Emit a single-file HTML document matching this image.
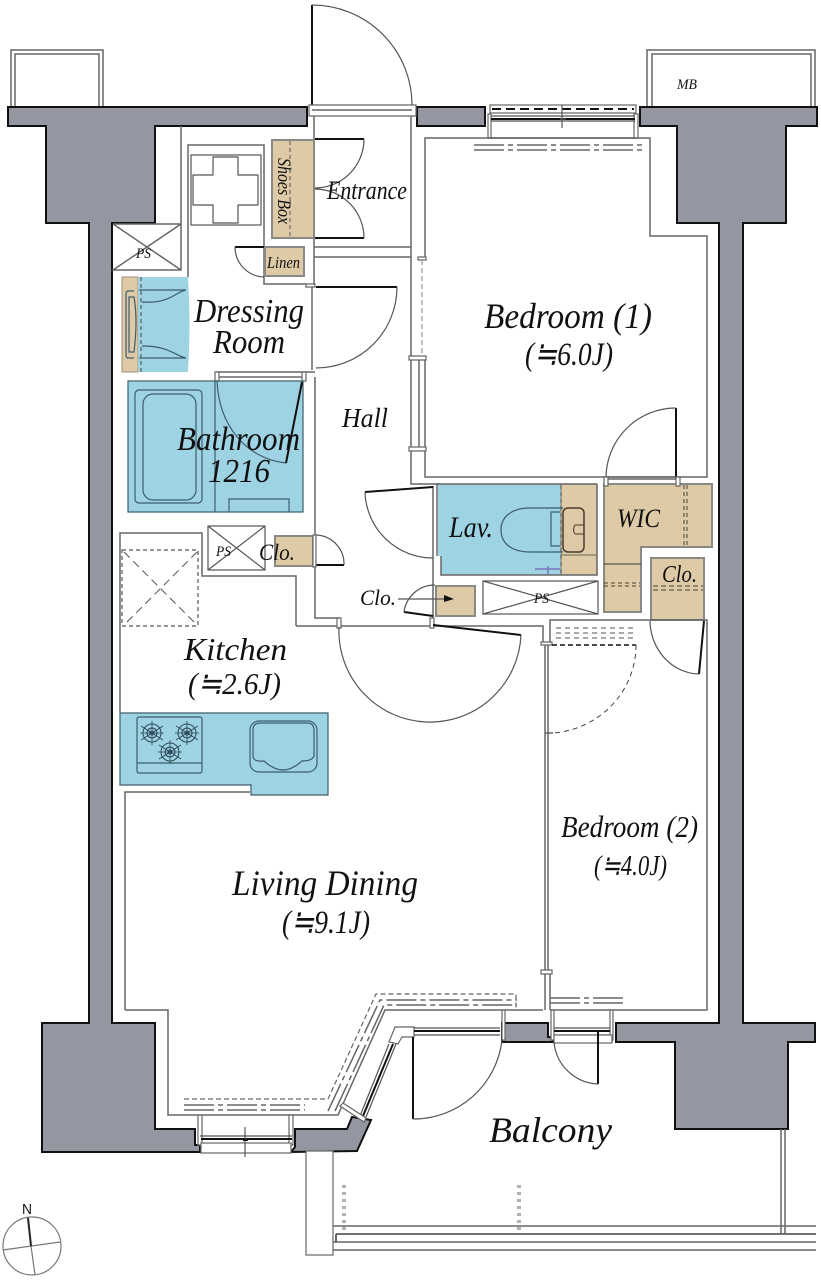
<!DOCTYPE html>
<html><head><meta charset="utf-8"><style>
html,body{margin:0;padding:0;background:#fff}
svg{display:block}
text{font-family:"Liberation Serif","Noto Serif CJK JP",serif;font-style:italic;fill:#111}
.l{fill:none;stroke:#666;stroke-width:1.5}
.k{fill:none;stroke:#111;stroke-width:2}
.a{fill:none;stroke:#555;stroke-width:1.2}
.w{fill:#9496a1;stroke:#111;stroke-width:2}
.d{fill:none;stroke:#555;stroke-width:1.5;stroke-dasharray:6 3}
.c{fill:none;stroke:#666;stroke-width:1.5;stroke-dasharray:30 4 5 4}
.b{fill:#9dd3e3;stroke:#3d5d6d;stroke-width:1.2}
.t{fill:#decaa6;stroke:#8a8a84;stroke-width:2}
.e{fill:none;stroke:#3d5d6d;stroke-width:1.2}
.f{fill:#fff;stroke:#666;stroke-width:1.2}
</style></head><body>
<svg width="821" height="1280" viewBox="0 0 821 1280" xmlns="http://www.w3.org/2000/svg">
<rect width="821" height="1280" fill="#fff"/>

<!-- meter boxes -->
<path class="l" d="M11 107V50H103V107M15 107V54H99V107M647 107V50H815V107M652 107V54H811V107"/>

<!-- structural walls -->
<path class="w" d="M8 107H307V126H155V223H112V1023H155V1129H195V1145H200V1152H42V1023H89V223H46V126H8Z"/>
<path class="w" d="M417 107H485V126H417Z"/>
<path class="w" d="M640 107H817V126H786V223H743V1023H815V1042H788V1129H675V1042H616V1023H719V223H677V126H640Z"/>
<path class="w" d="M291 1152L295 1147V1129H347L352 1117L371 1120L357 1151Z"/>
<path class="w" d="M502 1042V1023H548V1037H553V1042Z"/>

<!-- entrance door & threshold -->
<path class="k" d="M312 105V5"/>
<path class="a" d="M312 5A100 100 0 0 1 412 105"/>
<path class="f" d="M309 105H416V116H309Z"/>
<path class="l" d="M312 110H412"/>

<!-- inner wall lines -->
<path class="l" d="M181 126V224H113M181 224V270H113L181 224M113 224L181 270"/>
<path class="l" d="M188 277V145H264V284H306M314 116V284M312 287V370M411 116V358M314 247H411M314 257H411"/>
<path class="f" d="M306 284H315V287H306Z"/>
<path class="l" d="M425 257V138H650V236H707V477H425V448"/>
<path class="f" d="M418 257H426V260H418Z"/>
<path d="M422 260V357" fill="none" stroke="#aaa" stroke-width="1.5" stroke-dasharray="5 3"/>
<path class="l" d="M411 358V449M419 358V449M425 358V449"/>
<path class="f" d="M409 356H426V360H409Z"/>
<path class="f" d="M409 447H426V451H409Z"/>
<path class="l" d="M411 451V484H440"/>
<path class="l" d="M315 377V618H340M296 626V576H202V533H120V712M296 626H432M315 372H216"/>
<path class="l" d="M216 377H305"/>
<path class="f" d="M215 372H219V381H215Z"/>
<path class="f" d="M302 372H306V381H302Z"/>

<!-- washer pan -->
<rect class="a" x="191" y="155" width="70" height="70"/>
<path class="a" d="M213 157H238V175H258V205H238V223H213V205H193V175H213Z" stroke-linejoin="round"/>

<!-- shoes box -->
<rect class="t" x="272" y="140" width="42" height="98"/>
<path d="M290 141V237" fill="none" stroke="#555" stroke-dasharray="4 3"/>
<path class="k" d="M315 139H364M315 238H364"/>
<path class="a" d="M364 139A49 49 0 0 1 315 188M364 238A49 49 0 0 0 315 189"/>

<!-- linen -->
<rect class="t" x="265" y="247" width="39" height="29"/>
<path class="k" d="M264 247H235" stroke-width="1.5"/>
<path class="a" d="M235 247A30 30 0 0 0 264 277"/>

<!-- dressing room door -->
<path class="k" d="M316 287H397"/>
<path class="a" d="M397 287A81 81 0 0 1 316 368"/>

<!-- vanity -->
<rect x="122" y="277" width="16" height="95" fill="#decaa6" stroke="#a08e70"/>
<path d="M138 277H188Q191 325 188 372H138Z" fill="#9dd3e3"/>
<path d="M141 277V372" fill="none" stroke="#444" stroke-dasharray="4 3"/>
<path class="e" d="M139 290H186C175 292 170 304 142 302M139 358H186C175 356 170 346 142 346M134 291H128Q126 291 126 295V355Q126 358 128 358H134M129 297H134Q138 320 134 352H129Z"/>

<!-- bathroom -->
<rect class="b" x="128" y="381" width="175" height="131"/>
<rect class="e" x="135" y="390" width="67" height="113" rx="4"/>
<rect class="e" x="143" y="394" width="53" height="106" rx="10"/>
<path class="e" d="M215 381V512M229 512V499H289V512"/>
<path class="k" d="M302 382L286 463" stroke-width="1.5"/>
<path class="e" d="M217 381C219 425 245 458 286 463" stroke="#334"/>

<!-- kitchen PS -->
<rect class="a" x="208" y="526" width="57" height="44"/>
<path class="a" d="M208 526L265 570M265 526L208 570"/>
<rect class="t" x="275" y="536" width="38" height="30"/>
<path class="k" d="M315 565H344" stroke-width="1.5"/>
<path class="a" d="M315 535A29 29 0 0 1 344 565"/>
<path class="f" d="M313 535H316V567H313Z"/>
<rect x="122" y="550" width="76" height="76" fill="none" stroke="#555" stroke-width="1.2" stroke-dasharray="4 3"/>
<path d="M124 552L197 625M197 552L124 625" fill="none" stroke="#555" stroke-dasharray="8 5"/>

<!-- Lav -->
<path d="M438 484H561V575H441V556H438Z" fill="#9dd3e3"/>
<rect x="561" y="484" width="36" height="91" fill="#decaa6" stroke="#8a7a60"/>
<path class="l" d="M436 484H597M597 484V575H441V556M437 484V556"/>
<path class="l" d="M433 486V620"/>
<path d="M561 485V575" fill="none" stroke="#444" stroke-dasharray="4 3"/>
<path d="M561 555H597" stroke="#665" fill="none"/>
<path class="e" d="M563 508H530C510 508 501 518 501 530C501 542 510 552 530 552H563M560 512H551V546H560"/>
<rect x="563" y="508" width="21" height="44" rx="5" fill="none" stroke="#4a3a2a" stroke-width="1.5"/>
<path d="M584 525H575Q572 530 575 534H584" fill="none" stroke="#4a3a2a"/>
<path d="M535 569H560M548 566V574" fill="none" stroke="#7a74c0" stroke-width="1.5"/>

<!-- hall door to lav -->
<path class="k" d="M365 492L433 487" stroke-width="1.5"/>
<path class="a" d="M365 492A68 68 0 0 0 433 558"/>

<!-- small closet -->
<rect class="t" x="436" y="586" width="39" height="30"/>
<path class="k" d="M404 612L433 616" stroke-width="1.5"/>
<path class="a" d="M435 585A31 31 0 0 0 404 612"/>
<path class="a" d="M398 599H445"/>
<path d="M444 595L454 599L444 602Z" fill="#111"/>

<!-- long PS -->
<rect class="a" x="483" y="581" width="115" height="33"/>
<path class="a" d="M483 581L598 614M598 581L483 614"/>

<!-- WIC -->
<path class="t" d="M604 484H712V547H641V612H604Z" stroke="#a08e70" stroke-width="1"/>
<path d="M604 564H641" fill="none" stroke="#554" stroke-width="1.2"/>
<path d="M684 485V546M687 485V546" fill="none" stroke="#443" stroke-dasharray="4 3"/>
<path d="M604 583H640M604 586H640" fill="none" stroke="#443" stroke-dasharray="4 3"/>
<path class="k" d="M676 408V478" stroke-width="1.5"/>
<path class="a" d="M676 408A70 70 0 0 0 606 478"/>
<path class="l" d="M606 479H676M606 477H676"/>
<path class="f" d="M604 477H608V486H604Z"/>
<path class="f" d="M676 477H680V486H676Z"/>

<!-- right closet -->
<rect class="t" x="651" y="558" width="53" height="62" stroke-width="3"/>
<path d="M653 586H703M653 590H703" fill="none" stroke="#443" stroke-dasharray="5 3"/>
<path class="k" d="M704 621L699 674" stroke-width="1.5"/>
<path class="a" d="M650 621A50 54 0 0 0 699 674"/>

<!-- main lines -->
<path class="l" d="M433 626H543V643M550 643V620H707V1010H550"/>
<path class="f" d="M541 642H552V645H541Z"/>
<path class="l" d="M545 645V970M548 645V970"/>
<path class="f" d="M541 970H552V974H541Z"/>
<path class="l" d="M545 974V1010M550 974V1010"/>
<path class="f" d="M430 618H434V628H430Z"/>
<path class="f" d="M337 618H341V628H337Z"/>

<!-- LD door -->
<path class="k" d="M433 625L521 635" stroke-width="1.5"/>
<path class="a" d="M339 627A91 91 0 0 0 521 635"/>

<!-- bedroom2 dashed -->
<path d="M556 628H636M556 633H636M556 638H636" fill="none" stroke="#777" stroke-width="1.2" stroke-dasharray="5 4"/>
<path d="M552 645H636" fill="none" stroke="#111" stroke-width="1.5" stroke-dasharray="5 3"/>
<path d="M636 645A90 88 0 0 1 553 733" fill="none" stroke="#444" stroke-dasharray="5 4"/>
<path class="l" d="M545 733H553"/>

<!-- kitchen counter -->
<path class="b" d="M120 713H328V795H251V785H120Z"/>
<rect class="e" x="137" y="717" width="65" height="56" rx="2"/>
<path class="e" d="M137 763H202"/>
<g fill="none" stroke="#2c4654" stroke-width="1">
<circle cx="152" cy="733" r="9"/><circle cx="152" cy="733" r="5"/><circle cx="152" cy="733" r="2"/><path d="M152 721V745M140 733H164M141 726L163 740M163 726L141 740" stroke-width=".8"/>
<circle cx="187" cy="733" r="9"/><circle cx="187" cy="733" r="5"/><circle cx="187" cy="733" r="2"/><path d="M187 721V745M175 733H199M176 726L198 740M198 726L176 740" stroke-width=".8"/>
<circle cx="170" cy="752" r="9"/><circle cx="170" cy="752" r="5"/><circle cx="170" cy="752" r="2"/><path d="M170 740V764M158 752H182M159 745L181 759M181 745L159 759" stroke-width=".8"/>
</g>
<rect class="e" x="250" y="721" width="67" height="51" rx="9" stroke-width="1.5"/>
<path class="e" d="M253 730Q253 723 260 723H307Q314 723 314 730V756Q312 761 302 761Q292 770 283 770Q274 770 264 761Q253 762 253 756Z" stroke-width="1.5"/>

<!-- living dining outline -->
<path class="l" d="M120 712V713M125 1010V792H250M125 1010H168V1115H338L385 1010H543"/>

<!-- curtains -->
<path d="M184 1099H328L376 994H516V1009" fill="none" stroke="#666" stroke-width="1.2" stroke-dasharray="5 3"/>
<path class="c" d="M184 1105H305M184 1110H305M328 1111L380 1000H517M335 1111L384 1005H517"/>
<path class="c" d="M474 145H646M474 150H646"/>
<path class="c" d="M550 998H627M550 1003H627"/>

<!-- top window -->
<rect class="f" x="490" y="105" width="146" height="8"/>
<path d="M492 109H634" stroke="#111" stroke-width="2" stroke-dasharray="9 5" fill="none"/>
<path class="f" d="M488 114H491V138H488ZM634 114H638V138H634Z"/>
<path class="a" d="M491 116H635"/>
<path class="k" d="M491 119H635" stroke-width="1.5"/>
<path class="a" d="M491 121H635M488 138H638M562 105V128M560 119H566"/>

<!-- bottom window -->
<path class="f" d="M198 1115H202V1145H198ZM289 1115H293V1145H289Z"/>
<path class="a" d="M200 1136H292"/>
<path class="k" d="M201 1139H292" stroke-width="1.5"/>
<rect class="f" x="201" y="1143" width="90" height="10"/>
<path class="a" d="M245 1127V1157"/>
<path class="k" d="M243 1140H248" stroke-width="1.5"/>

<!-- bay window -->
<path class="f" d="M395 1027H414V1037H402L398 1044L389 1042Z"/>
<path class="a" d="M389 1044L360 1116M396 1044L366 1117"/>
<path class="k" d="M393 1044L363 1116" stroke-width="2"/>
<path class="f" d="M340 1106L343 1103L366 1118L364 1122Z"/>

<!-- balcony door 1 -->
<path class="a" d="M414 1028H500M414 1035H500"/>
<path class="k" d="M414 1031H500" stroke-width="1.5"/>
<path class="k" d="M413 1037V1119" stroke-width="1.3"/>
<path class="a" d="M413 1119A89 89 0 0 0 502 1040"/>
<path class="f" d="M502 1010H505V1040H502Z"/>

<!-- balcony door 2 -->
<path class="f" d="M551 1010H554V1040H551ZM610 1010H613V1040H610Z"/>
<path class="a" d="M554 1028H610M554 1035H610"/>
<path class="k" d="M554 1031H610" stroke-width="1.5"/>
<rect class="f" x="554" y="1035" width="58" height="8"/>
<path class="k" d="M598 1031V1084" stroke-width="1.5"/>
<path class="a" d="M598 1084A46 46 0 0 1 554 1042"/>

<!-- balcony railing -->
<rect class="f" x="306" y="1151" width="27" height="104"/>
<path class="l" d="M333 1226H816M333 1242H816M333 1250H816"/>
<path d="M336 1234H816M336 1234V1242" fill="none" stroke="#444" stroke-width="1.6"/>
<path d="M343 1185V1233M345 1185V1233M518 1185V1233M520 1185V1233" fill="none" stroke="#666" stroke-dasharray="3 4"/>
<path class="l" d="M781 1129V1234M785 1129V1234"/>

<!-- compass -->
<circle cx="32" cy="1246" r="29" fill="none" stroke="#777" stroke-width="1.2"/>
<path d="M3 1250L60 1242M31 1246L35 1275" fill="none" stroke="#777" stroke-width="1.2"/>
<path d="M28 1218L31 1246" fill="none" stroke="#222" stroke-width="2"/>
<text x="22" y="1214" font-size="15" textLength="10" lengthAdjust="spacingAndGlyphs" style="font-style:normal;font-family:'Liberation Sans',sans-serif">N</text>

<!-- labels -->
<text x="136" y="258" font-size="15" textLength="15" lengthAdjust="spacingAndGlyphs">PS</text>
<text x="216" y="556" font-size="15" textLength="15" lengthAdjust="spacingAndGlyphs">PS</text>
<text x="534" y="603" font-size="15" textLength="15" lengthAdjust="spacingAndGlyphs">PS</text>
<text x="677" y="89" font-size="15" textLength="20" lengthAdjust="spacingAndGlyphs">MB</text>
<text transform="translate(278 158) rotate(90)" font-size="19" textLength="66" lengthAdjust="spacingAndGlyphs">Shoes Box</text>
<text x="327" y="199" font-size="26" textLength="80" lengthAdjust="spacingAndGlyphs">Entrance</text>
<text x="267" y="268" font-size="17" textLength="33" lengthAdjust="spacingAndGlyphs">Linen</text>
<text x="194" y="322" font-size="34" textLength="110" lengthAdjust="spacingAndGlyphs">Dressing</text>
<text x="213" y="353" font-size="34" textLength="72" lengthAdjust="spacingAndGlyphs">Room</text>
<text x="177" y="450" font-size="34" textLength="123" lengthAdjust="spacingAndGlyphs">Bathroom</text>
<text x="208" y="482" font-size="34" textLength="62" lengthAdjust="spacingAndGlyphs">1216</text>
<text x="342" y="427" font-size="27" textLength="46" lengthAdjust="spacingAndGlyphs">Hall</text>
<text x="259" y="560" font-size="23" textLength="36" lengthAdjust="spacingAndGlyphs">Clo.</text>
<text x="360" y="605" font-size="22" textLength="36" lengthAdjust="spacingAndGlyphs">Clo.</text>
<text x="449" y="537" font-size="30" textLength="44" lengthAdjust="spacingAndGlyphs">Lav.</text>
<text x="617" y="527" font-size="26" textLength="43" lengthAdjust="spacingAndGlyphs">WIC</text>
<text x="662" y="582" font-size="24" textLength="35" lengthAdjust="spacingAndGlyphs">Clo.</text>
<text x="484" y="328" font-size="36" textLength="168" lengthAdjust="spacingAndGlyphs">Bedroom (1)</text>
<text x="525" y="365" font-size="33" textLength="88" lengthAdjust="spacingAndGlyphs">(≒6.0J)</text>
<text x="184" y="660" font-size="32" textLength="103" lengthAdjust="spacingAndGlyphs">Kitchen</text>
<text x="188" y="694" font-size="31" textLength="93" lengthAdjust="spacingAndGlyphs">(≒2.6J)</text>
<text x="232" y="895" font-size="36" textLength="186" lengthAdjust="spacingAndGlyphs">Living Dining</text>
<text x="282" y="933" font-size="33" textLength="88" lengthAdjust="spacingAndGlyphs">(≒9.1J)</text>
<text x="561" y="837" font-size="31" textLength="137" lengthAdjust="spacingAndGlyphs">Bedroom (2)</text>
<text x="594" y="875" font-size="28" textLength="73" lengthAdjust="spacingAndGlyphs">(≒4.0J)</text>
<text x="489" y="1142" font-size="36" textLength="123" lengthAdjust="spacingAndGlyphs">Balcony</text>
</svg>
</body></html>
